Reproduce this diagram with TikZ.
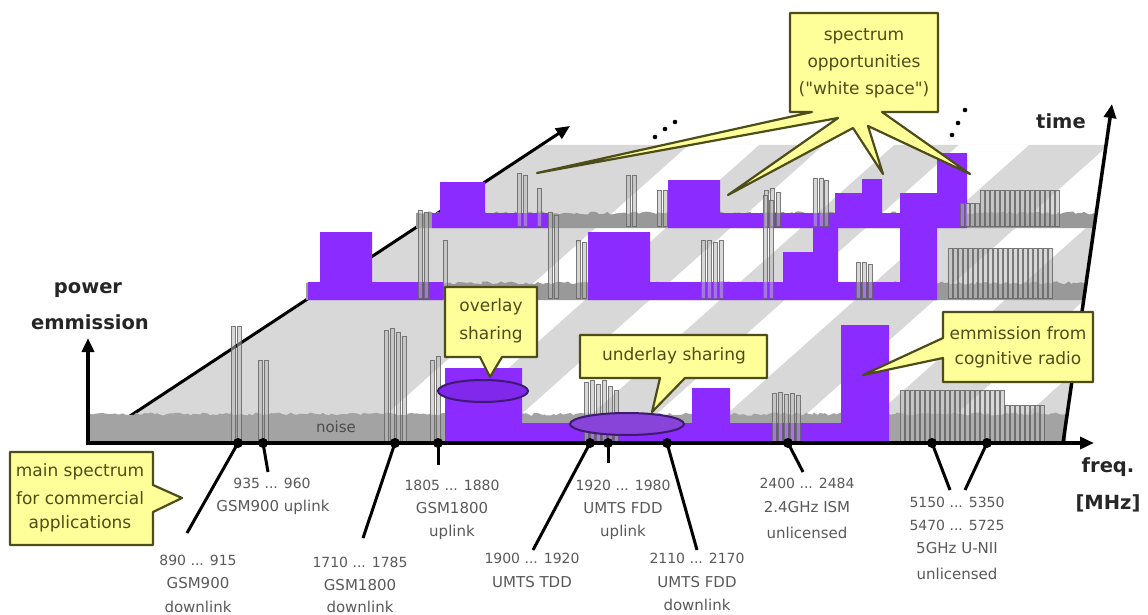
\documentclass[tikz,border=0pt]{standalone}
\usepackage{fontspec}
\setmainfont{DejaVu Sans}[Ligatures=TeXOff]
\usetikzlibrary{arrows.meta,decorations.pathmorphing}
\definecolor{cr}{HTML}{8B2BFF}
\definecolor{crd}{HTML}{3E1A72}
\definecolor{lg}{HTML}{D8D8D8}
\definecolor{noisef}{HTML}{A3A3A3}
\definecolor{noisem}{HTML}{999999}
\definecolor{callfill}{HTML}{FFFF99}
\definecolor{calldraw}{HTML}{4D4D1A}
\definecolor{labc}{HTML}{595959}
\pgfmathsetseed{7}
\tikzset{
  callout/.style={fill=callfill, draw=calldraw, line width=2.2pt, line join=round},
  ctext/.style={text=calldraw, font=\fontsize{17}{20}\selectfont, inner sep=0pt},
  lab/.style={text=labc, font=\fontsize{15}{18}\selectfont, inner sep=0pt},
  num/.style={text=labc, font=\fontsize{14}{17}\selectfont, inner sep=0pt},
  axlab/.style={text=black!85, font=\bfseries\fontsize{19.5}{23}\selectfont, inner sep=0pt},
  dot/.style={circle, fill=black, inner sep=0pt, minimum size=10pt},
  leader/.style={line width=3pt},
  axis/.style={line width=3.5pt, -{Triangle[length=14pt,width=12pt]}},
  spike/.style={draw=black!60, fill=gray!55, fill opacity=0.55, draw opacity=0.85, line width=0.7pt},
  purple/.style={fill=cr},
  jag/.style={decorate, decoration={random steps, segment length=3pt, amplitude=1.6pt}},
  stripe/.style={fill=white},
  ell/.style={draw=crd, line width=2pt},
  tinydot/.style={fill=black}
}
\begin{document}
\begin{tikzpicture}[x=1pt,y=-1pt]
\useasboundingbox (0,0) rectangle (1148,615);
% light gray time-plane with white stripes
\begin{scope}
  \clip (89,443) -- (541,145) -- (1106,145) -- (1063,443) -- cycle;
  \fill[lg] (0,0) rectangle (1148,615);
  \foreach \s in {380,515,650,800,950}
    \fill[stripe] (\s,420) -- ++(70,0) -- ++(310,-276) -- ++(-70,0) -- cycle;
\end{scope}
% left diagonal time arrow (behind layers)
\coordinate (t0) at (89,443);
\coordinate (t1) at (570,126);
\draw[line width=3pt, -{Triangle[length=14pt,width=12pt]}] (t0) -- (t1);

% ===== top layer (t=2) =====
\fill[noisem] (416,228) -- (416,213) decorate[jag]{-- (1094,213)} -- (1094,228) -- cycle;
\fill[purple] (432,228) -- (432,213) -- (440,213) -- (440,182) -- (485,182) -- (485,213) -- (548,213) -- (548,228) -- cycle;
\fill[purple] (668,228) -- (668,180) -- (720,180) -- (720,213) -- (835,213) -- (835,193) -- (862,193) -- (862,179) -- (882,179) -- (882,213) -- (905,213) -- (905,193) -- (937,193) -- (937,153) -- (967,153) -- (967,228) -- cycle;
\foreach \x/\t in {519/173,525/175,539/188,628/175,634/175,659/190,665/190,766/190,772/188,778/192,815/178,821/178,826/180}
  \draw[spike] (\x-2,226) rectangle (\x+2,\t);
\foreach \x in {962,967,972,977}
  \draw[spike] (\x-2,226) rectangle (\x+2,203);
\foreach \x in {982,987,...,1057}
  \draw[spike] (\x-2,226) rectangle (\x+2,190);

% ===== middle layer (t=1) =====
\fill[noisem] (306,300) -- (306,283) decorate[jag]{-- (1084,283)} -- (1084,300) -- cycle;
\fill[purple] (308,300) -- (308,282) -- (320,282) -- (320,232) -- (372,232) -- (372,282) -- (443,282) -- (443,300) -- cycle;
\fill[purple] (588,300) -- (588,232) -- (650,232) -- (650,282) -- (783,282) -- (783,252) -- (813,252) -- (813,227) -- (838,227) -- (838,282) -- (900,282) -- (900,193) -- (937,193) -- (937,300) -- cycle;
\foreach \x/\t in {420/210,426/212,445/240,550/212,556/215,578/240,584/242,703/240,709/240,715/242,721/240,765/195,771/200,858/262,864/262,870/264}
  \draw[spike] (\x-2,298) rectangle (\x+2,\t);
\foreach \x in {950,955,...,1050}
  \draw[spike] (\x-2,298) rectangle (\x+2,248);

% ===== front layer (t=0) =====
\fill[noisef] (88,443) -- (88,414) decorate[jag]{-- (1066,414)} -- (1066,443) -- cycle;
\fill[purple] (445,443) -- (445,368) -- (522,368) -- (522,423) -- (692,423) -- (692,388) -- (730,388) -- (730,423) -- (841,423) -- (841,325) -- (889,325) -- (889,443) -- cycle;
\foreach \x/\t in {233/326,239/326,260/360,266/360,386/330,392/328,398/332,404/336,432/360,438/356,586/382,592/380,598/384,604/380,610/386,616/390,774/393,780/392,786/394,792/393,798/395}
  \draw[spike] (\x-2,441) rectangle (\x+2,\t);
\foreach \x in {902,907,...,1002}
  \draw[spike] (\x-2,441) rectangle (\x+2,390);
\foreach \x in {1007,1012,...,1042}
  \draw[spike] (\x-2,441) rectangle (\x+2,405);
\node[lab, text=black!70] (noise) at (336,427) {noise};

% sharing ellipses
\draw[ell, fill=cr!92!black] (483,391) ellipse [x radius=45, y radius=11];
\draw[ell, fill=cr!70!gray] (627,424) ellipse [x radius=57, y radius=11];

% axes
\coordinate (o) at (88,443);
\coordinate (pw) at (88,338);
\coordinate (fq) at (1094,443);
\coordinate (tb) at (1063,443);
\coordinate (tt) at (1112,104);
\draw[axis] (tb) -- (tt);
\draw[axis] ([yshift=-1.75pt]o) -- (pw);
\draw[axis] ([xshift=-1.75pt]o) -- (fq);
\node[axlab] (pow) at (88,290) {power};
\node[axlab] (emm) at (90,322) {emmission};
\node[axlab] (time) at (1061,121) {time};
\node[axlab] (freq) at (1108,467) {freq.};
\node[axlab] (mhz) at (1108,503) {[MHz]};

% ellipsis dots
\foreach \p in {(655,137),(665,129),(675,122),(952,135),(958,123),(965,110)}
  \fill[tinydot] \p circle (2.3);

% frequency markers
\foreach \n/\x in {1/238,2/263,3/395,4/438,5/590,6/608,7/667,8/788,9/932,10/987}
  \node[dot] (d\n) at (\x,443) {};
\coordinate (e1) at (187,533);
\coordinate (e2) at (268,472);
\coordinate (e3) at (363,538);
\coordinate (e4) at (438,465);
\coordinate (e5) at (533,550);
\coordinate (e6) at (608,463);
\coordinate (e7) at (697,550);
\coordinate (e8) at (803,472);
\coordinate (e9) at (950,490);
\coordinate (e10) at (965,490);
\foreach \n in {1,...,10}
  \draw[leader] (d\n.center) -- (e\n);

\node[num] (l1a) at (198,560) {890 ... 915};
\node[lab] (l1b) at (198,583) {GSM900};
\node[lab] (l1c) at (198,607) {downlink};
\node[num] (l2a) at (272,483) {935 ... 960};
\node[lab] (l2b) at (273,507) {GSM900 uplink};
\node[num] (l3a) at (360,562) {1710 ... 1785};
\node[lab] (l3b) at (360,585) {GSM1800};
\node[lab] (l3c) at (360,607) {downlink};
\node[num] (l4a) at (452,485) {1805 ... 1880};
\node[lab] (l4b) at (452,508) {GSM1800};
\node[lab] (l4c) at (452,532) {uplink};
\node[num] (l5a) at (532,558) {1900 ... 1920};
\node[lab] (l5b) at (532,582) {UMTS TDD};
\node[num] (l6a) at (623,485) {1920 ... 1980};
\node[lab] (l6b) at (623,508) {UMTS FDD};
\node[lab] (l6c) at (623,532) {uplink};
\node[num] (l7a) at (697,558) {2110 ... 2170};
\node[lab] (l7b) at (697,582) {UMTS FDD};
\node[lab] (l7c) at (697,605) {downlink};
\node[num] (l8a) at (807,483) {2400 ... 2484};
\node[lab] (l8b) at (807,507) {2.4GHz ISM};
\node[lab] (l8c) at (807,533) {unlicensed};
\node[num] (l9a) at (957,502) {5150 ... 5350};
\node[num] (l9b) at (957,525) {5470 ... 5725};
\node[lab] (l9c) at (957,548) {5GHz U-NII};
\node[lab] (l9d) at (957,574) {unlicensed};

% callouts
\draw[callout] (790,13) -- (938,13) -- (938,112) -- (882,112) -- (970,174) -- (868,126) -- (883,174) -- (853,128) -- (728,195) -- (838,118) -- (537,173) -- (812,112) -- (790,112) -- cycle;
\node[ctext] (ws1) at (864,36) {spectrum};
\node[ctext] (ws2) at (864,63) {opportunities};
\node[ctext] (ws3) at (864,90) {("white space")};

\draw[callout] (445,287) -- (537,287) -- (537,357) -- (502,357) -- (490,377) -- (480,357) -- (445,357) -- cycle;
\node[ctext] (ov1) at (491,307) {overlay};
\node[ctext] (ov2) at (491,335) {sharing};

\draw[callout] (580,335) -- (767,335) -- (767,378) -- (685,378) -- (652,412) -- (660,378) -- (580,378) -- cycle;
\node[ctext] (un) at (674,356) {underlay sharing};

\draw[callout] (943,312) -- (1093,312) -- (1093,382) -- (943,382) -- (943,358) -- (863,375) -- (943,338) -- cycle;
\node[ctext] (em1) at (1018,333) {emmission from};
\node[ctext] (em2) at (1018,360) {cognitive radio};

\draw[callout] (10,452) -- (153,452) -- (153,485) -- (182,498) -- (153,512) -- (153,545) -- (10,545) -- cycle;
\node[ctext] (ms1) at (80,472) {main spectrum};
\node[ctext] (ms2) at (80,498) {for commercial};
\node[ctext] (ms3) at (80,524) {applications};
\end{tikzpicture}
\end{document}
